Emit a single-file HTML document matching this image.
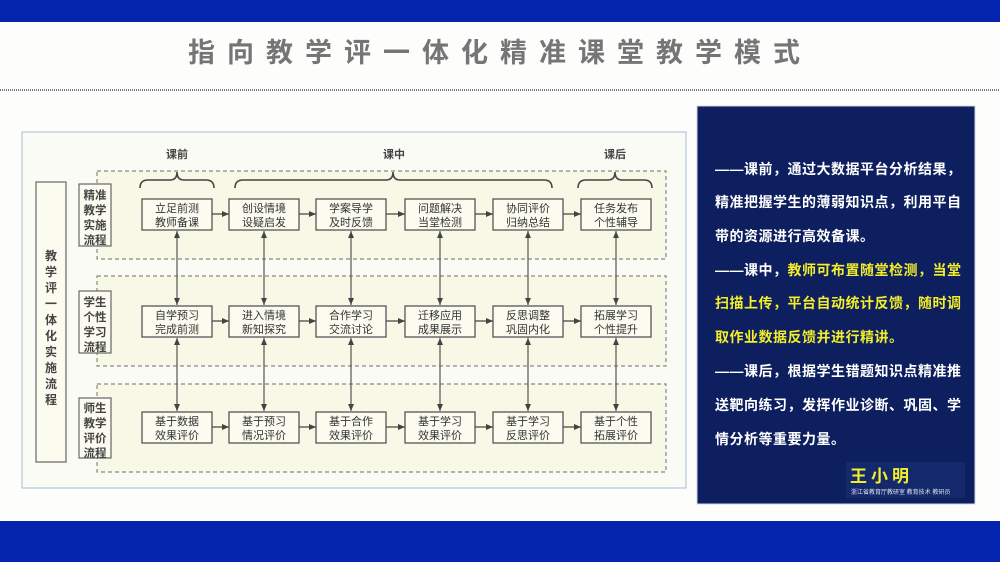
<!DOCTYPE html>
<html><head><meta charset="utf-8"><style>
html,body{margin:0;padding:0;width:1000px;height:562px;overflow:hidden;background:#fdfdfb;}
svg text{font-family:"Liberation Sans","Noto Sans CJK SC",sans-serif;}
</style></head><body>
<svg width="1000" height="562" viewBox="0 0 1000 562" xmlns="http://www.w3.org/2000/svg">
<defs>
<marker id="a" markerWidth="8" markerHeight="8" refX="7" refY="4" orient="auto" markerUnits="userSpaceOnUse"><path d="M0,1 L7,4 L0,7 z" fill="#444"/></marker>
<marker id="s" markerWidth="8" markerHeight="8" refX="1" refY="4" orient="auto" markerUnits="userSpaceOnUse"><path d="M8,1 L1,4 L8,7 z" fill="#444"/></marker>
</defs>
<rect x="0" y="0" width="1000" height="22" fill="#0424ad"/>
<rect x="0" y="521" width="1000" height="41" fill="#0424ad"/>
<text x="500" y="62" text-anchor="middle" font-size="27" font-weight="bold" fill="#757575" letter-spacing="12">指向教学评一体化精准课堂教学模式</text>
<line x1="0" y1="90" x2="1000" y2="90" stroke="#6b7a8c" stroke-width="2" stroke-dasharray="1,1"/>
<rect x="22" y="132" width="664" height="356" fill="#fbfbf5" stroke="#b5c7d8" stroke-width="1.2"/>
<rect x="36" y="182" width="30" height="280" fill="#fbfbf0" stroke="#666" stroke-width="1.2"/>
<g font-size="12" font-weight="bold" fill="#444" text-anchor="middle">
<text x="51" y="260">教</text><text x="51" y="276">学</text><text x="51" y="292">评</text><text x="51" y="308">一</text><text x="51" y="324">体</text><text x="51" y="340">化</text><text x="51" y="356">实</text><text x="51" y="372">施</text><text x="51" y="388">流</text><text x="51" y="404">程</text>
</g>
<g fill="#f8f8e6" stroke="#888" stroke-width="1.2" stroke-dasharray="4,3">
<rect x="97" y="171" width="569" height="88"/>
<rect x="97" y="276" width="569" height="90"/>
<rect x="97" y="384" width="569" height="88"/>
</g>
<g fill="#fbfbf0" stroke="#666" stroke-width="1.2">
<rect x="79" y="184" width="32" height="62"/>
<rect x="79" y="291" width="32" height="62"/>
<rect x="79" y="398" width="32" height="60"/>
</g>
<g font-size="11.5" font-weight="bold" fill="#444" text-anchor="middle">
<text x="95" y="199">精准</text><text x="95" y="214">教学</text><text x="95" y="229">实施</text><text x="95" y="244">流程</text>
<text x="95" y="306">学生</text><text x="95" y="321">个性</text><text x="95" y="336">学习</text><text x="95" y="351">流程</text>
<text x="95" y="412">师生</text><text x="95" y="427">教学</text><text x="95" y="442">评价</text><text x="95" y="457">流程</text>
</g>
<g fill="none" stroke="#444" stroke-width="1.6">
<path d="M140,188 q0,-8 8,-8 h22 q7,0 7,-8 q0,8 7,8 h22 q8,0 8,8"/>
<path d="M235,188 q0,-8 8,-8 h143 q7,0 7,-8 q0,8 7,8 h144 q8,0 8,8"/>
<path d="M578,188 q0,-8 8,-8 h22 q7,0 7,-8 q0,8 7,8 h22 q8,0 8,8"/>
</g>
<g font-size="11" font-weight="bold" fill="#444" text-anchor="middle">
<text x="177" y="158">课前</text><text x="394" y="158">课中</text><text x="615" y="158">课后</text>
</g>
<g fill="#fbfbf0" stroke="#555" stroke-width="1.3">
<rect x="142" y="199" width="70" height="31"/><rect x="229" y="199" width="70" height="31"/><rect x="316" y="199" width="70" height="31"/><rect x="405" y="199" width="70" height="31"/><rect x="493" y="199" width="70" height="31"/><rect x="581" y="199" width="70" height="31"/>
<rect x="142" y="306" width="70" height="31"/><rect x="229" y="306" width="70" height="31"/><rect x="316" y="306" width="70" height="31"/><rect x="405" y="306" width="70" height="31"/><rect x="493" y="306" width="70" height="31"/><rect x="581" y="306" width="70" height="31"/>
<rect x="142" y="412" width="70" height="31"/><rect x="229" y="412" width="70" height="31"/><rect x="316" y="412" width="70" height="31"/><rect x="405" y="412" width="70" height="31"/><rect x="493" y="412" width="70" height="31"/><rect x="581" y="412" width="70" height="31"/>
</g>
<g font-size="11" fill="#333" text-anchor="middle">
<text x="177" y="212">立足前测</text><text x="177" y="226">教师备课</text>
<text x="264" y="212">创设情境</text><text x="264" y="226">设疑启发</text>
<text x="351" y="212">学案导学</text><text x="351" y="226">及时反馈</text>
<text x="440" y="212">问题解决</text><text x="440" y="226">当堂检测</text>
<text x="528" y="212">协同评价</text><text x="528" y="226">归纳总结</text>
<text x="616" y="212">任务发布</text><text x="616" y="226">个性辅导</text>
<text x="177" y="319">自学预习</text><text x="177" y="333">完成前测</text>
<text x="264" y="319">进入情境</text><text x="264" y="333">新知探究</text>
<text x="351" y="319">合作学习</text><text x="351" y="333">交流讨论</text>
<text x="440" y="319">迁移应用</text><text x="440" y="333">成果展示</text>
<text x="528" y="319">反思调整</text><text x="528" y="333">巩固内化</text>
<text x="616" y="319">拓展学习</text><text x="616" y="333">个性提升</text>
<text x="177" y="425">基于数据</text><text x="177" y="439">效果评价</text>
<text x="264" y="425">基于预习</text><text x="264" y="439">情况评价</text>
<text x="351" y="425">基于合作</text><text x="351" y="439">效果评价</text>
<text x="440" y="425">基于学习</text><text x="440" y="439">效果评价</text>
<text x="528" y="425">基于学习</text><text x="528" y="439">反思评价</text>
<text x="616" y="425">基于个性</text><text x="616" y="439">拓展评价</text>
</g>
<g stroke="#444" stroke-width="1.2" marker-end="url(#a)">
<line x1="212" y1="214" x2="229" y2="214"/><line x1="299" y1="214" x2="316" y2="214"/><line x1="386" y1="214" x2="405" y2="214"/><line x1="475" y1="214" x2="493" y2="214"/><line x1="563" y1="214" x2="581" y2="214"/>
<line x1="212" y1="321" x2="229" y2="321"/><line x1="299" y1="321" x2="316" y2="321"/><line x1="386" y1="321" x2="405" y2="321"/><line x1="475" y1="321" x2="493" y2="321"/><line x1="563" y1="321" x2="581" y2="321"/>
<line x1="212" y1="427" x2="229" y2="427"/><line x1="299" y1="427" x2="316" y2="427"/><line x1="386" y1="427" x2="405" y2="427"/><line x1="475" y1="427" x2="493" y2="427"/><line x1="563" y1="427" x2="581" y2="427"/>
</g>
<g stroke="#555" stroke-width="1.2" marker-end="url(#a)" marker-start="url(#s)">
<line x1="177" y1="231" x2="177" y2="305"/><line x1="264" y1="231" x2="264" y2="305"/><line x1="351" y1="231" x2="351" y2="305"/><line x1="440" y1="231" x2="440" y2="305"/><line x1="528" y1="231" x2="528" y2="305"/><line x1="616" y1="231" x2="616" y2="305"/>
<line x1="177" y1="338" x2="177" y2="411"/><line x1="264" y1="338" x2="264" y2="411"/><line x1="351" y1="338" x2="351" y2="411"/><line x1="440" y1="338" x2="440" y2="411"/><line x1="528" y1="338" x2="528" y2="411"/><line x1="616" y1="338" x2="616" y2="411"/>
</g>
<rect x="697" y="106" width="278" height="398" fill="#0d1f5e" stroke="#cfd6e4" stroke-width="1"/>
<g font-size="14" font-weight="bold" fill="#ffffff" letter-spacing="0.5">
<text x="715" y="174">——课前，通过大数据平台分析结果，</text>
<text x="715" y="207">精准把握学生的薄弱知识点，利用平自</text>
<text x="715" y="241">带的资源进行高效备课。</text>
<text x="715" y="275">——课中，<tspan fill="#f2ee2a">教师可布置随堂检测，当堂</tspan></text>
<text x="715" y="308" fill="#f2ee2a">扫描上传，平台自动统计反馈，随时调</text>
<text x="715" y="342" fill="#f2ee2a">取作业数据反馈并进行精讲。</text>
<text x="715" y="376">——课后，根据学生错题知识点精准推</text>
<text x="715" y="410">送靶向练习，发挥作业诊断、巩固、学</text>
<text x="715" y="444">情分析等重要力量。</text>
</g>
<rect x="846" y="462" width="119" height="36" fill="#13296c"/>
<text x="850" y="482" font-size="17" font-weight="bold" fill="#f2ee2a" letter-spacing="4">王小明</text>
<text x="851" y="494" font-size="6" fill="#dfe3ee">浙江省教育厅教研室 教育技术 教研员</text>
</svg>
</body></html>
